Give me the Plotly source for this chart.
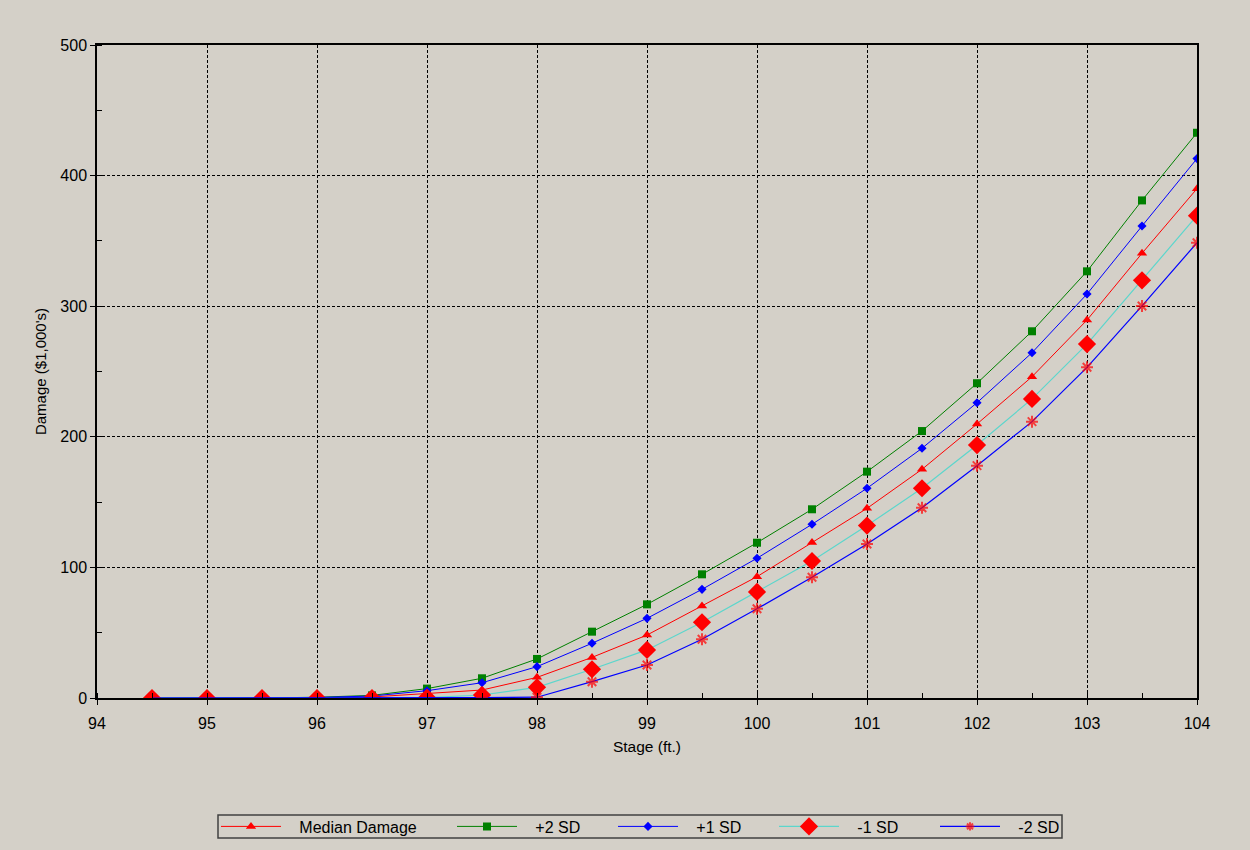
import plotly.graph_objects as go

# Stage (ft.) at which damage is evaluated
stage = [94.5, 95.0, 95.5, 96.0, 96.5, 97.0, 97.5, 98.0, 98.5, 99.0,
         99.5, 100.0, 100.5, 101.0, 101.5, 102.0, 102.5, 103.0, 103.5, 104.0]

# Damage ($1,000's) for each curve
median_damage = [0, 0, 0, 0.2, 0.8, 3.2, 6.1, 15.8, 31.1, 48.2,
                 70.4, 92.9, 119.0, 145.2, 175.1, 209.8, 246.0, 289.4, 340.5, 390.0]
plus_2sd = [0, 0, 0, 0.6, 2.0, 7.2, 15.1, 29.9, 50.8, 71.7,
            94.7, 118.9, 144.5, 173.3, 204.4, 241.0, 280.8, 326.7, 381.0, 432.8]
plus_1sd = [0, 0, 0, 0.4, 1.5, 5.6, 11.7, 24.0, 41.9, 61.0,
            83.2, 107.0, 133.0, 160.6, 191.2, 226.1, 264.4, 309.3, 361.4, 413.0]
minus_1sd = [0, 0, 0, 0, 0, 0.3, 2.3, 8.2, 22.0, 36.8,
             58.0, 81.2, 104.9, 132.0, 160.6, 193.7, 229.0, 271.0, 319.8, 369.3]
minus_2sd = [0, 0, 0, 0, 0, 0, 0.3, 0.6, 12.5, 25.3,
             45.0, 68.3, 92.4, 117.9, 145.7, 177.9, 211.6, 253.2, 300.2, 348.6]

series_names = ["Median Damage", "+2 SD", "+1 SD", "-1 SD", "-2 SD"]

x_ticks = [94, 95, 96, 97, 98, 99, 100, 101, 102, 103, 104]
y_ticks = [0, 100, 200, 300, 400, 500]

BG = "#d4d0c8"
FONT = "Liberation Sans"
W, H = 1250, 850
GAP = "\u00a0" * 3  # extra room between legend sample and label

fig = go.Figure()

fig.add_trace(go.Scatter(
    x=stage, y=median_damage, name=GAP + series_names[0], mode="lines+markers",
    line=dict(color="#ff0000", width=1),
    marker=dict(symbol="triangle-up", size=9, color="#ff0000"),
    legend="legend"))
fig.add_trace(go.Scatter(
    x=stage, y=plus_2sd, name=GAP + series_names[1], mode="lines+markers",
    line=dict(color="#008000", width=1),
    marker=dict(symbol="square", size=8, color="#008000"),
    legend="legend2"))
fig.add_trace(go.Scatter(
    x=stage, y=plus_1sd, name=GAP + series_names[2], mode="lines+markers",
    line=dict(color="#0000ff", width=1),
    marker=dict(symbol="diamond", size=7, color="#0000ff"),
    legend="legend2"))
fig.add_trace(go.Scatter(
    x=stage, y=minus_1sd, name=GAP + series_names[3], mode="lines+markers",
    line=dict(color="#5cd6cc", width=1.2),
    marker=dict(symbol="diamond", size=14, color="#ff0000"),
    legend="legend2"))
# star markers are only shown once the curve leaves zero
star_sizes = [0 if v == 0 else 10 for v in minus_2sd]
fig.add_trace(go.Scatter(
    x=stage, y=minus_2sd, name=GAP + series_names[4], mode="lines+markers",
    line=dict(color="#0000ff", width=1.2),
    marker=dict(symbol="asterisk-open", size=star_sizes, color="#ff0000",
                line=dict(color="#ff0000", width=2)),
    legend="legend2"))

axis_common = dict(
    showline=True, linecolor="black", linewidth=1.5, mirror=True,
    showgrid=True, gridcolor="black", gridwidth=1, griddash="3px,2px",
    zeroline=False, ticks="outside", ticklen=5, tickcolor="black",
    tickfont=dict(family=FONT, size=16, color="black"),
)

fig.update_xaxes(
    **axis_common, range=[94, 104], tickvals=x_ticks,
    minor=dict(dtick=0.5, ticks="inside", ticklen=5, tickcolor="black", showgrid=False),
    ticklabelstandoff=5,
    title=dict(text="Stage (ft.)", font=dict(family=FONT, size=15.5, color="black"),
               standoff=10),
)
fig.update_yaxes(
    **axis_common, range=[0, 500], tickvals=y_ticks,
    minor=dict(dtick=50, ticks="inside", ticklen=5, tickcolor="black", showgrid=False),
    title=dict(text="Damage ($1,000's)", font=dict(family=FONT, size=15, color="black"),
               standoff=10),
)

legend_style = dict(
    orientation="h", bgcolor="rgba(0,0,0,0)", borderwidth=0,
    font=dict(family=FONT, size=16, color="black"),
    xref="container", yref="container",
    xanchor="left", yanchor="middle", itemwidth=60, itemclick=False,
)

legend_y = 1 - 826.5 / H

fig.update_layout(
    width=W, height=H,
    margin=dict(l=97, r=53, t=45, b=152, autoexpand=False),
    paper_bgcolor=BG, plot_bgcolor=BG,
    font=dict(family=FONT, size=15, color="black"),
    showlegend=True,
    legend=dict(**legend_style, x=216 / W, y=legend_y),
    legend2=dict(**legend_style, x=452 / W, y=legend_y,
                 entrywidth=86, entrywidthmode="pixels"),
    shapes=[dict(type="rect", xref="paper", yref="paper",
                 x0=(218 - 97) / 1100, x1=(1062 - 97) / 1100,
                 y0=(698 - 815) / 653, y1=(698 - 838) / 653,
                 line=dict(color="#404040", width=1.5), fillcolor="rgba(0,0,0,0)")],
)

fig.write_html("out.html")
